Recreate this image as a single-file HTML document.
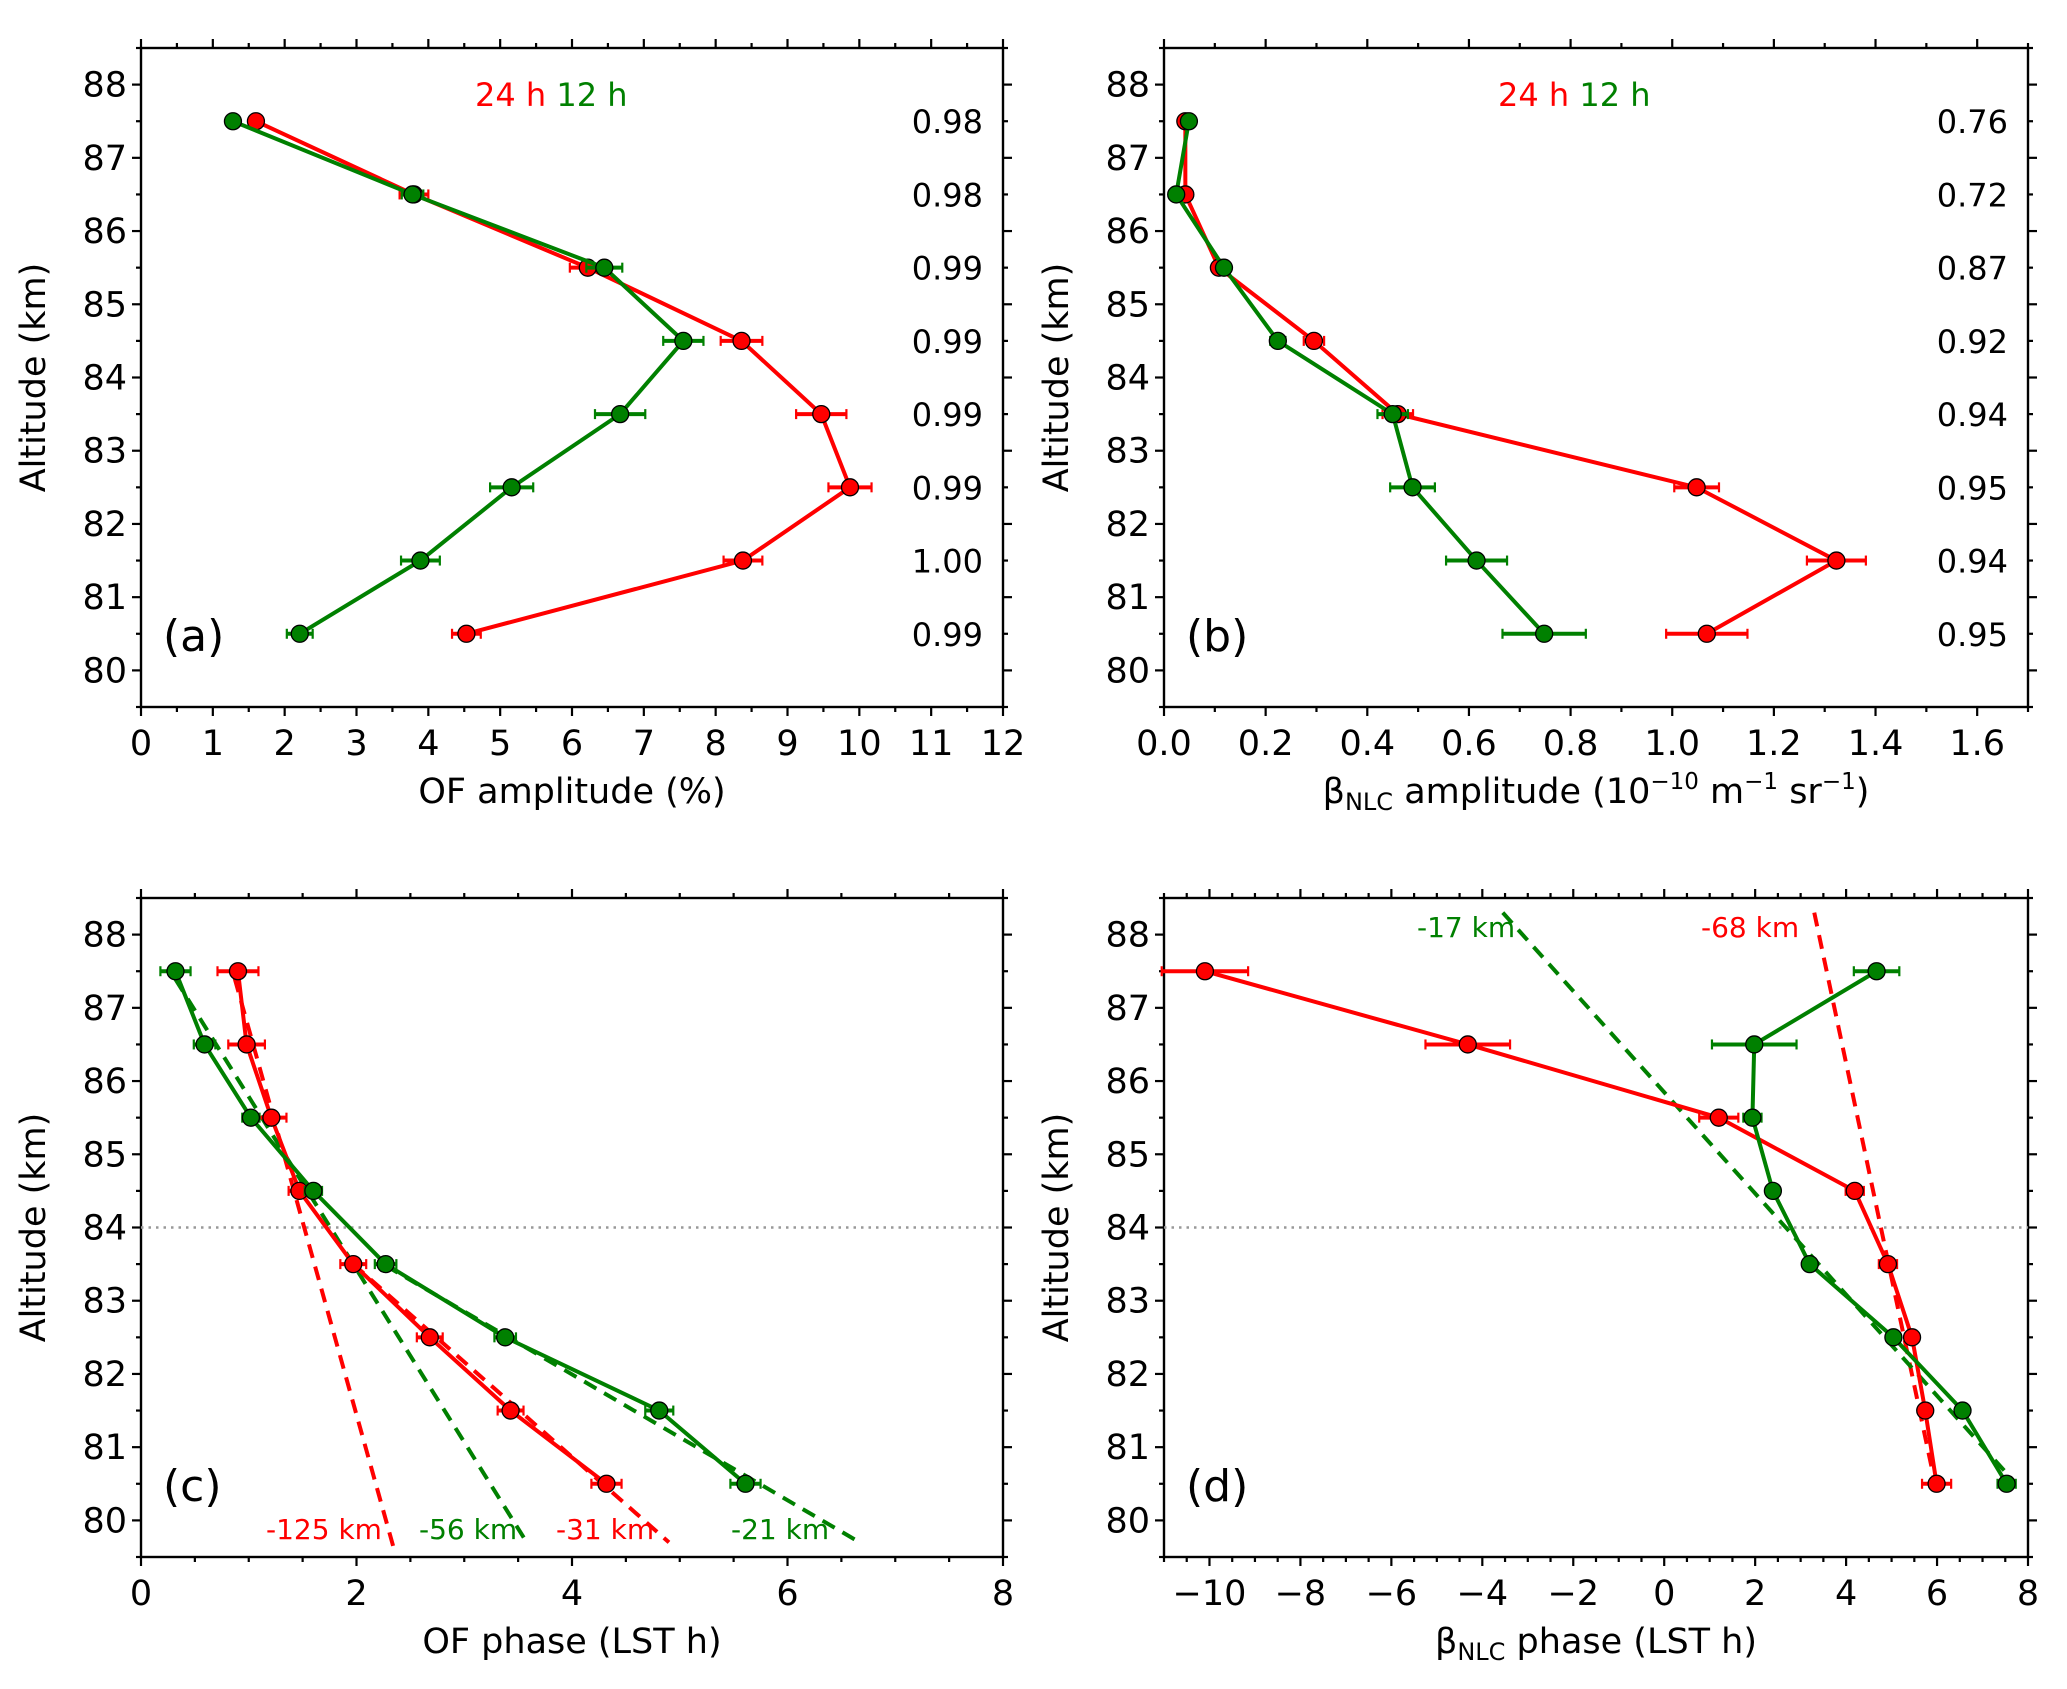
<!DOCTYPE html>
<html><head><meta charset="utf-8">
<style>
html,body{margin:0;padding:0;background:#fff;}
svg{display:block;font-family:"DejaVu Sans","Liberation Sans",sans-serif;}
</style></head>
<body>
<svg id="fig" width="2067" height="1689" viewBox="0 0 2067 1689"></svg>
<script>
const altitudes=[87.5,86.5,85.5,84.5,83.5,82.5,81.5,80.5];
// Panel a: OF amplitude (%)
const aRed=[1.6,3.8,6.22,8.36,9.47,9.87,8.38,4.53];
const aRedErr=[0.05,0.2,0.25,0.29,0.35,0.3,0.27,0.2];
const aGreen=[1.28,3.78,6.45,7.55,6.67,5.16,3.89,2.21];
const aGreenErr=[0.05,0.15,0.25,0.28,0.35,0.3,0.27,0.18];
const aCorr=["0.98","0.98","0.99","0.99","0.99","0.99","1.00","0.99"];
const aXTicks=[0,1,2,3,4,5,6,7,8,9,10,11,12];
// Panel b: beta NLC amplitude
const bRed=[0.042,0.042,0.108,0.295,0.46,1.048,1.323,1.068];
const bRedErr=[0.005,0.008,0.01,0.02,0.03,0.044,0.058,0.08];
const bGreen=[0.049,0.024,0.118,0.224,0.45,0.489,0.615,0.748];
const bGreenErr=[0.005,0.008,0.01,0.015,0.03,0.044,0.06,0.082];
const bCorr=["0.76","0.72","0.87","0.92","0.94","0.95","0.94","0.95"];
const bXTicks=[0,0.2,0.4,0.6,0.8,1.0,1.2,1.4,1.6];
// Panel c: OF phase
const cRed=[0.90,0.98,1.21,1.47,1.97,2.68,3.43,4.32];
const cRedErr=[0.19,0.17,0.14,0.1,0.12,0.12,0.12,0.14];
const cGreen=[0.32,0.59,1.02,1.60,2.27,3.38,4.81,5.61];
const cGreenErr=[0.14,0.1,0.08,0.08,0.1,0.1,0.13,0.14];
const cFitRed=[[0.87,87.4,2.34,79.65],[1.97,83.5,4.90,79.7]];
const cFitGreen=[[0.32,87.39,3.58,79.7],[2.27,83.48,6.67,79.7]];
const cFitLabels=["-125 km","-56 km","-31 km","-21 km"];
const cXTicks=[0,2,4,6,8];
// Panel d: beta NLC phase
const dRed=[-10.1,-4.32,1.2,4.19,4.92,5.45,5.74,5.99];
const dRedErr=[0.95,0.93,0.43,0.2,0.2,0.1,0.1,0.32];
const dGreen=[4.67,1.98,1.94,2.39,3.2,5.04,6.56,7.53];
const dGreenErr=[0.5,0.93,0.2,0.1,0.1,0.1,0.1,0.2];
const dFitRed=[[3.30,88.3,5.95,80.52]];
const dFitGreen=[[-3.55,88.3,7.71,80.52]];
const dXTicks=[-10,-8,-6,-4,-2,0,2,4,6,8];
const yTicks=[80,81,82,83,84,85,86,87,88];

const NS="http://www.w3.org/2000/svg";
const svg=document.getElementById('fig');
const RED="#ff0000", GREEN="#008000";
function mk(tag,attrs,parent){const e=document.createElementNS(NS,tag);for(const k in attrs)e.setAttribute(k,attrs[k]);(parent||svg).appendChild(e);return e;}

function panel(opt){
  const g=mk('g',{});
  
  
  const L=opt.L,R=opt.R,T=opt.T,B=opt.B;
  const sx=v=>L+(v-opt.x0)/(opt.x1-opt.x0)*(R-L);
  const sy=v=>B-(v-79.5)/(88.5-79.5)*(B-T);
  const tg=mk('g',{stroke:'#000','stroke-width':2.2},g);
  for(let v=opt.x0;v<=opt.x1+1e-9;v+=opt.minor){
    const x=sx(v);const maj=opt.xt.some(t=>Math.abs(t-v)<1e-6);const len=maj?9:5;
    mk('line',{x1:x,y1:B,x2:x,y2:B+len},tg);mk('line',{x1:x,y1:T,x2:x,y2:T-len},tg);
  }
  for(let v=79.5;v<=88.5+1e-9;v+=0.5){
    const y=sy(v);const maj=Math.abs(v-Math.round(v))<1e-6;const len=maj?9:5;
    mk('line',{x1:L,y1:y,x2:L-len,y2:y},tg);mk('line',{x1:R,y1:y,x2:R+len,y2:y},tg);
  }
  mk('rect',{x:L,y:T,width:R-L,height:B-T,fill:'none',stroke:'#000','stroke-width':2.4},g);
  opt.xt.forEach(v=>{const t=mk('text',{x:sx(v),y:B+48,'font-size':35,'text-anchor':'middle'},g);
    t.textContent=opt.fmt?opt.fmt(v):String(v).replace('-','\u2212');
    });
  yTicks.forEach(v=>{const t=mk('text',{x:L-14,y:sy(v)+12,'font-size':35,'text-anchor':'end'},g);t.textContent=v;
    });
  const yt=mk('text',{x:0,y:0,'font-size':35,'text-anchor':'middle',transform:`translate(${L-96},${(T+B)/2}) rotate(-90)`},g);
  yt.textContent='Altitude (km)';
  
  const xt=mk('text',{x:(L+R)/2,y:B+96,'font-size':35,'text-anchor':'middle'},g);
  xt.innerHTML=opt.xtitle;
  
  if(opt.dotted){const d=mk('line',{x1:L,x2:R,y1:sy(84),y2:sy(84),stroke:'#999','stroke-width':2.5,'stroke-dasharray':'2.5 5'},g);
    }
  (opt.fits||[]).forEach(f=>f.lines.forEach(l=>{
    const e=mk('line',{x1:sx(l[0]),y1:sy(l[1]),x2:sx(l[2]),y2:sy(l[3]),stroke:f.c,'stroke-width':4,'stroke-dasharray':'14 9'},g);
    }));
  opt.series.forEach(s=>{
    const sg=mk('g',{},g);
    
    s.err.forEach((e,i)=>{const y=sy(altitudes[i]);const x1=sx(s.v[i]-e),x2=sx(s.v[i]+e);
      mk('line',{x1,x2,y1:y,y2:y,stroke:s.c,'stroke-width':4},sg);
      mk('line',{x1,x2:x1,y1:y-5,y2:y+5,stroke:s.c,'stroke-width':2.2},sg);
      mk('line',{x1:x2,x2:x2,y1:y-5,y2:y+5,stroke:s.c,'stroke-width':2.2},sg);});
    mk('polyline',{points:s.v.map((v,i)=>sx(v)+','+sy(altitudes[i])).join(' '),fill:'none',stroke:s.c,'stroke-width':4},sg);
    s.v.forEach((v,i)=>{const c=mk('circle',{cx:sx(v),cy:sy(altitudes[i]),r:8.5,fill:s.c,stroke:'#000','stroke-width':1.3},sg);
      });
  });
  const pl=mk('text',{x:L+22,y:B-56,'font-size':44},g);pl.textContent='('+opt.id+')';
  
  if(opt.corr){opt.corr.forEach((c,i)=>{const t=mk('text',{x:R-20,y:sy(altitudes[i])+12,'font-size':32,'text-anchor':'end'},g);t.textContent=c;
    });}
  if(opt.legend){const t=mk('text',{x:opt.legend,y:106,'font-size':32},g);
    t.innerHTML='<tspan fill="'+RED+'">24 h</tspan> <tspan fill="'+GREEN+'">12 h</tspan>';
    }
  (opt.labels||[]).forEach(l=>{const t=mk('text',{x:l[0],y:l[1],'font-size':28,fill:l[3]},g);t.textContent=l[2];
    });
  return g;
}
const ttlB='β<tspan font-size="24" dy="7">NLC</tspan><tspan dy="-7"> amplitude (10</tspan><tspan font-size="23" dy="-14">−10</tspan><tspan dy="14"> m</tspan><tspan font-size="23" dy="-14">−1</tspan><tspan dy="14"> sr</tspan><tspan font-size="23" dy="-14">−1</tspan><tspan dy="14">)</tspan>';
panel({id:'a',L:141,R:1003,T:48,B:707,x0:0,x1:12,minor:0.5,xt:aXTicks,xtitle:'OF amplitude (%)',
  series:[{name:'series-24h',v:aRed,err:aRedErr,c:RED},{name:'series-12h',v:aGreen,err:aGreenErr,c:GREEN}],corr:aCorr,legend:475});
panel({id:'b',L:1164,R:2028,T:48,B:707,x0:0,x1:1.7,minor:0.1,xt:bXTicks,fmt:v=>v.toFixed(1),xtitle:ttlB,
  series:[{name:'series-24h',v:bRed,err:bRedErr,c:RED},{name:'series-12h',v:bGreen,err:bGreenErr,c:GREEN}],corr:bCorr,legend:1498});
panel({id:'c',L:141,R:1003,T:898,B:1557,x0:0,x1:8,minor:0.5,xt:cXTicks,xtitle:'OF phase (LST h)',dotted:true,
  fits:[{c:RED,lines:cFitRed},{c:GREEN,lines:cFitGreen}],
  series:[{name:'series-24h',v:cRed,err:cRedErr,c:RED},{name:'series-12h',v:cGreen,err:cGreenErr,c:GREEN}],
  labels:[[266,1539,cFitLabels[0],RED],[419,1539,cFitLabels[1],GREEN],[556,1539,cFitLabels[2],RED],[731,1539,cFitLabels[3],GREEN]]});
panel({id:'d',L:1164,R:2028,T:898,B:1557,x0:-11,x1:8,minor:0.5,xt:dXTicks,xtitle:'β<tspan font-size="24" dy="7">NLC</tspan><tspan dy="-7"> phase (LST h)</tspan>',dotted:true,
  fits:[{c:RED,lines:dFitRed},{c:GREEN,lines:dFitGreen}],
  series:[{name:'series-24h',v:dRed,err:dRedErr,c:RED},{name:'series-12h',v:dGreen,err:dGreenErr,c:GREEN}],
  labels:[[1417,937,'-17 km',GREEN],[1701,937,'-68 km',RED]]});
</script>
</body></html>
